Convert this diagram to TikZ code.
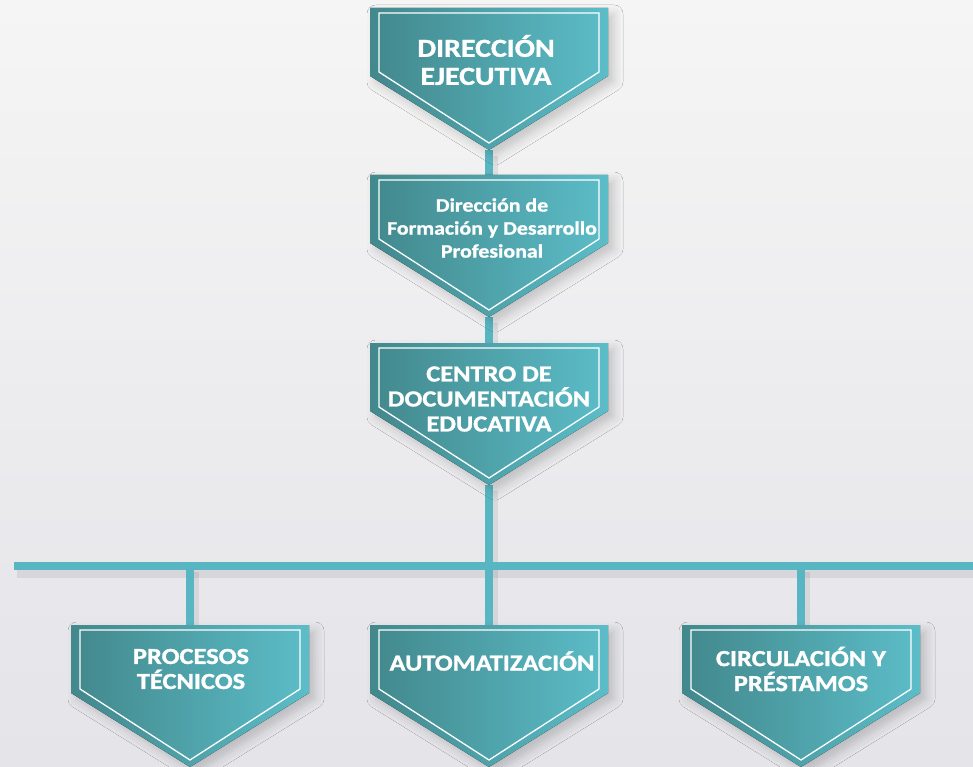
\documentclass[tikz,border=0pt]{standalone}
\usepackage{fontspec}
\setmainfont{Carlito}[FakeStretch=1.15, BoldFeatures={FakeBold=1.2}]
\usetikzlibrary{shadows.blur}
\definecolor{tealdark}{RGB}{66,136,140}
\definecolor{tealmid}{RGB}{84,172,182}
\definecolor{teallight}{RGB}{92,189,200}
\definecolor{linkteal}{RGB}{88,182,194}
\definecolor{bgtop}{RGB}{245,245,245}
\definecolor{bgbot}{RGB}{228,228,233}
\newcommand{\boxsize}[2]{\fontsize{#1}{#2}\selectfont\bfseries}

\begin{document}
\begin{tikzpicture}[x=1pt, y=-1pt,
   boxtext/.style={text=white, align=center, inner sep=0pt},
   link/.style={draw=linkteal, line width=8pt,
      preaction={draw=black, opacity=0.07, line width=12pt, transform canvas={shift={(3pt,-6pt)}}}},
   orgpos/.pic={
      \coordinate (-top) at (0,0);
      \coordinate (-tip) at (0,142);
   },
   orgbox/.pic={
      \fill[left color=tealdark, middle color=tealmid, right color=teallight,
         blur shadow={shadow xshift=6pt, shadow yshift=-6pt, shadow blur radius=9pt, shadow opacity=18}]
         (-119,0) -- (119,0) -- (119,68) -- (0,142) -- (-119,68) -- cycle;
      \draw[white, line width=1.3pt] (-110,5) -- (110,5) -- (110,64) -- (0,135) -- (-110,64) -- cycle;
   }]
% background
\fill[top color=bgtop, bottom color=bgbot] (0,0) rectangle (973,767);
\useasboundingbox (0,0) rectangle (973,767);

% positions
\pic (ejec) at (489,8) {orgpos};
\pic (form) at (489,175) {orgpos};
\pic (cde) at (489,343) {orgpos};
\pic (proc) at (190,625) {orgpos};
\pic (auto) at (489,625) {orgpos};
\pic (circ) at (801,625) {orgpos};

% bus
\coordinate (busL) at (14,566);
\coordinate (busR) at (980,566);
\coordinate (busA) at (190,566);
\coordinate (busB) at (489,566);
\coordinate (busC) at (801,566);

% connectors
\path
	(ejec-tip) edge[link] (form-top)
	(form-tip) edge[link] (cde-top)
	(cde-tip) edge[link] (busB)
	(busL) edge[link] (busR)
	(busA) edge[link] (proc-top)
	(busB) edge[link] (auto-top)
	(busC) edge[link] (circ-top)
;

% boxes
\pic at (ejec-top) {orgbox};
\pic at (form-top) {orgbox};
\pic at (cde-top) {orgbox};
\pic at (proc-top) {orgbox};
\pic at (auto-top) {orgbox};
\pic at (circ-top) {orgbox};

% texts
\node[boxtext, font=\boxsize{26}{28}] (dirEjec) at (486,60) {DIRECCIÓN\\EJECUTIVA};
\node[boxtext, font=\boxsize{19}{23}] (dirForm) at (492,228) {Dirección de\\Formación y Desarrollo\\Profesional};
\node[boxtext, font=\boxsize{23}{25}] (centroDoc) at (489,399) {CENTRO DE\\DOCUMENTACIÓN\\EDUCATIVA};
\node[boxtext, font=\boxsize{23}{25}] (procTec) at (191,669) {PROCESOS\\TÉCNICOS};
\node[boxtext, font=\boxsize{23}{25}] (automat) at (492,661) {AUTOMATIZACIÓN};
\node[boxtext, font=\boxsize{23}{25}] (circPres) at (801,669) {CIRCULACIÓN Y\\PRÉSTAMOS};

\end{tikzpicture}
\end{document}
